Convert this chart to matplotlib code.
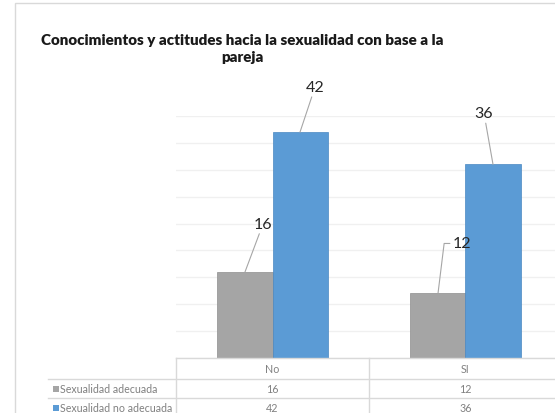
import matplotlib
matplotlib.use("Agg")
import matplotlib.pyplot as plt
from matplotlib.patches import Rectangle
from matplotlib.lines import Line2D
import numpy as np

# data
categories = ["No", "SI"]
series_names = ["Sexualidad adecuada", "Sexualidad no adecuada"]
adecuada = [16, 12]
no_adecuada = [42, 36]
series_colors = ["#a5a5a5", "#5b9bd5"]
title = "Conocimientos y actitudes hacia la sexualidad con base a la\npareja"

W, H = 555, 414
plt.rcParams["font.family"] = ["Lato", "DejaVu Sans"]

fig = plt.figure(figsize=(W / 100, H / 100), dpi=100)


def fx(x):
	return x / W


def fy(y):
	return 1 - y / H


# outer chart border
fig.patches.append(Rectangle((fx(15), fy(440)), fx(600), fy(4) - fy(440),
	transform=fig.transFigure, fill=False, edgecolor="#d9d9d9", lw=1))

# plot area: 0 at y=359 px, 45 at y=117 px, one category = 193 px
ax = fig.add_axes([fx(176), fy(359), fx(386), fy(117) - fy(359)])
ax.set_xlim(-0.5, 1.5)
ax.set_ylim(0, 45)
ax.set_yticks(np.arange(0, 46, 5))
ax.set_xticks([])
ax.tick_params(left=False, labelleft=False)
for s in ax.spines.values():
	s.set_visible(False)
ax.yaxis.grid(True, color="#f0f0f0", lw=1)
ax.set_axisbelow(True)
ax.patch.set_alpha(0)

x = np.arange(len(categories))
bw = 0.285
b1 = ax.bar(x - bw / 2, adecuada, bw, color=series_colors[0], edgecolor="#8e8e8e", lw=0.5)
b2 = ax.bar(x + bw / 2, no_adecuada, bw, color=series_colors[1], edgecolor="#4a88c2", lw=0.5)

# data labels with leader lines (offsets in pixels)
lab_kw = dict(textcoords="offset pixels", ha="center", va="center", fontsize=11.5,
	color="#262626", annotation_clip=False)
line_kw = dict(arrowstyle="-", color="#a6a6a6", lw=0.8, shrinkA=0, shrinkB=0)
offsets = {(0, 0): (18, 48), (0, 1): (24, 50), (1, 0): (15, 45), (1, 1): (-9, 51)}
for si, bars in enumerate([b1, b2]):
	for ci, rect in enumerate(bars):
		v = rect.get_height()
		cx = rect.get_x() + rect.get_width() / 2
		dx, dy = offsets[(si, ci)]
		kw = dict(line_kw)
		if (si, ci) == (0, 1):
			kw["connectionstyle"] = "angle,angleA=180,angleB=83,rad=0"
			kw["relpos"] = (0, 0.5)
		ax.annotate(str(v), xy=(cx, v), xytext=(dx, dy), arrowprops=kw, **lab_kw)

# title
fig.text(fx(242), fy(49), title, ha="center", va="center", fontsize=10.9,
	fontweight="heavy", color="#1a1a1a", linespacing=1.3)

# data table
tcol = "#d9d9d9"
for y0, xs in [(359, 176), (380, 48), (399, 48)]:
	fig.add_artist(Line2D([fx(xs), fx(600)], [fy(y0), fy(y0)], color=tcol, lw=1))
for xv in [176, 369]:
	fig.add_artist(Line2D([fx(xv), fx(xv)], [fy(359), fy(440)], color=tcol, lw=1))

col_centers = [272.5, 465.5]
row_y = [389.5, 408.5]
txt_kw = dict(ha="center", va="center", fontsize=7.7, color="#808080")
for ci, cat in enumerate(categories):
	fig.text(fx(col_centers[ci]), fy(369.5), cat, **txt_kw)
	fig.text(fx(col_centers[ci]), fy(row_y[0]), str(adecuada[ci]), **txt_kw)
	fig.text(fx(col_centers[ci]), fy(row_y[1]), str(no_adecuada[ci]), **txt_kw)
for ri, name in enumerate(series_names):
	fig.patches.append(Rectangle((fx(53), fy(row_y[ri] + 3)), fx(6), fy(0) - fy(6),
		transform=fig.transFigure, facecolor=series_colors[ri], edgecolor="none"))
	fig.text(fx(60), fy(row_y[ri]), name, ha="left", va="center", fontsize=7.7, color="#808080")

fig.savefig("out.png", dpi=100)
